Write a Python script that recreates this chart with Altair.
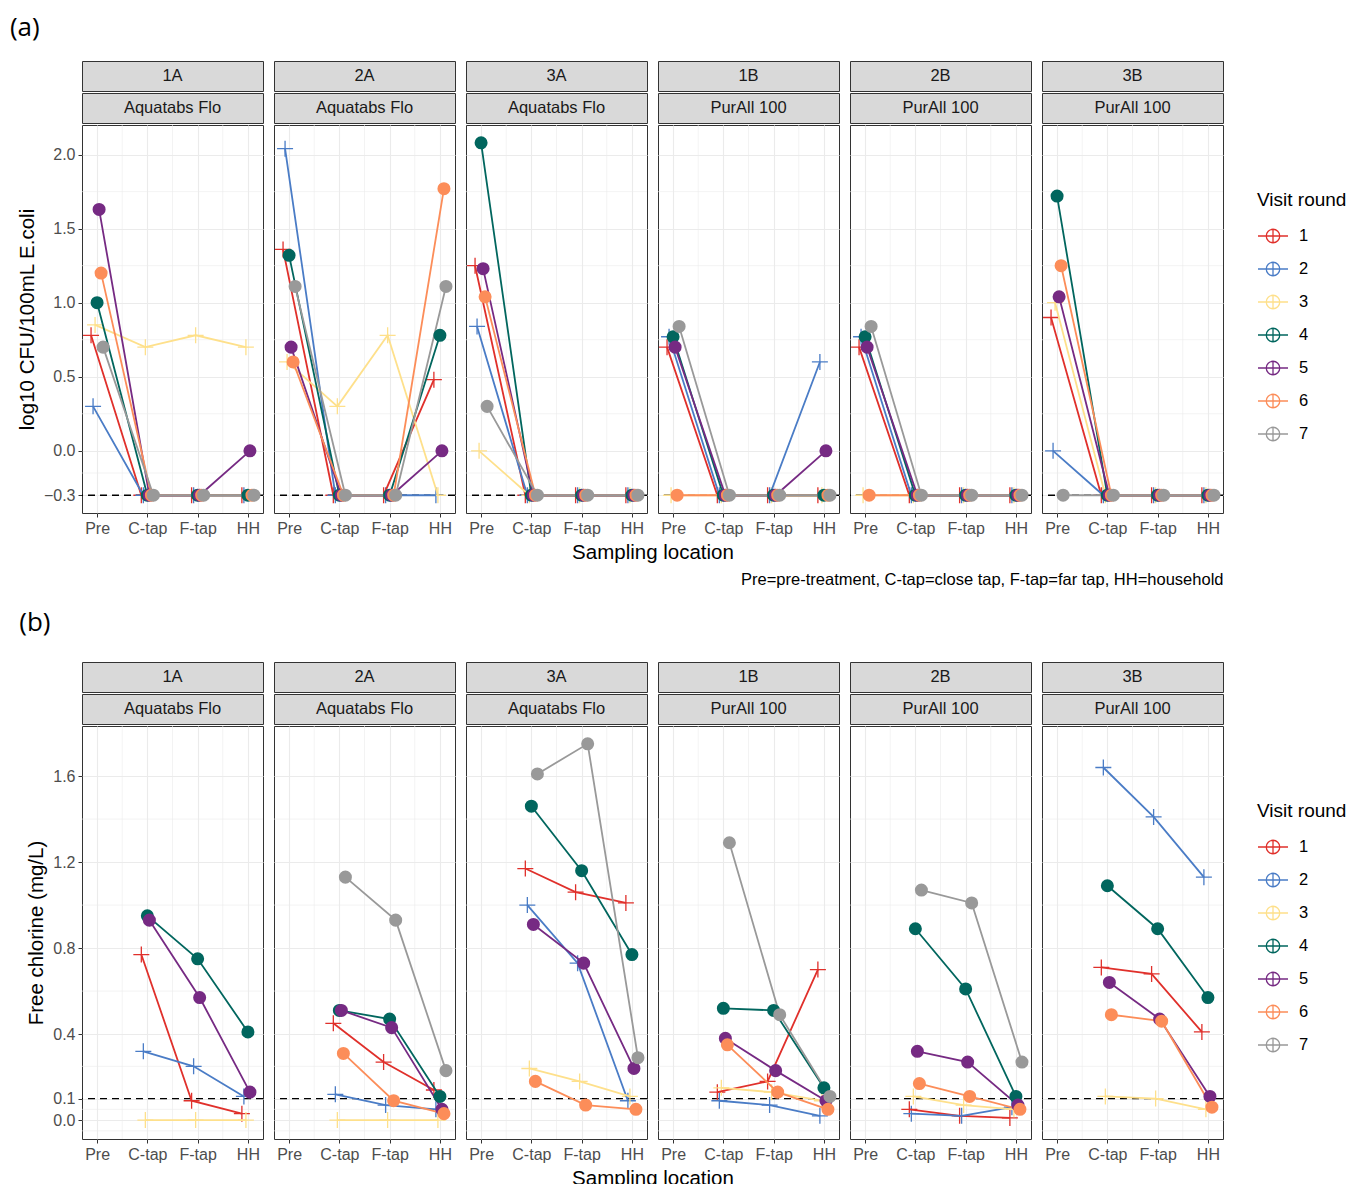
import altair as alt
import pandas as pd

FONT = "Liberation Sans"

SITES = ["1A", "2A", "3A", "1B", "2B", "3B"]
PRODUCTS = ["Aquatabs Flo", "Aquatabs Flo", "Aquatabs Flo",
            "PurAll 100", "PurAll 100", "PurAll 100"]
LOCATIONS = ["Pre", "C-tap", "F-tap", "HH"]
ROUNDS = ["1", "2", "3", "4", "5", "6", "7"]
CROSS_ROUNDS = ["1", "2", "3"]
ROUND_COLORS = ["#E0302B", "#4A7CC6", "#FEE08B", "#01665E",
                "#762A83", "#FC8D59", "#999999"]

# (a) log10 CFU/100mL E.coli -- one list per visit round: [Pre, C-tap, F-tap, HH]
ECOLI_1A = [[0.78, -0.3, -0.3, -0.3], [0.30, -0.3, -0.3, -0.3], [0.85, 0.70, 0.78, 0.70],
            [1.00, -0.3, -0.3, -0.3], [1.63, -0.3, -0.3, 0.00], [1.20, -0.3, -0.3, -0.3],
            [0.70, -0.3, -0.3, -0.3]]
ECOLI_2A = [[1.36, -0.3, -0.3, 0.48], [2.04, -0.3, -0.3, -0.3], [0.60, 0.30, 0.78, -0.3],
            [1.32, -0.3, -0.3, 0.78], [0.70, -0.3, -0.3, 0.00], [0.60, -0.3, -0.3, 1.77],
            [1.11, -0.3, -0.3, 1.11]]
ECOLI_3A = [[1.25, -0.3, -0.3, -0.3], [0.84, -0.3, -0.3, -0.3], [0.00, -0.3, -0.3, -0.3],
            [2.08, -0.3, -0.3, -0.3], [1.23, -0.3, -0.3, -0.3], [1.04, -0.3, -0.3, -0.3],
            [0.30, -0.3, -0.3, -0.3]]
ECOLI_1B = [[0.70, -0.3, -0.3, -0.3], [0.77, -0.3, -0.3, 0.60], [-0.3, -0.3, -0.3, -0.3],
            [0.77, -0.3, -0.3, -0.3], [0.70, -0.3, -0.3, 0.00], [-0.3, -0.3, -0.3, -0.3],
            [0.84, -0.3, -0.3, -0.3]]
ECOLI_2B = [[0.70, -0.3, -0.3, -0.3], [0.77, -0.3, -0.3, -0.3], [-0.3, -0.3, -0.3, -0.3],
            [0.77, -0.3, -0.3, -0.3], [0.70, -0.3, -0.3, -0.3], [-0.3, -0.3, -0.3, -0.3],
            [0.84, -0.3, -0.3, -0.3]]
ECOLI_3B = [[0.90, -0.3, -0.3, -0.3], [0.00, -0.3, -0.3, -0.3], [1.00, -0.3, -0.3, -0.3],
            [1.72, -0.3, -0.3, -0.3], [1.04, -0.3, -0.3, -0.3], [1.25, -0.3, -0.3, -0.3],
            [-0.3, -0.3, -0.3, -0.3]]

# (b) Free chlorine (mg/L) -- one list per visit round: [Pre, C-tap, F-tap, HH]
N = None
CHLOR_1A = [[N, 0.77, 0.09, 0.03], [N, 0.32, 0.25, 0.11], [N, 0.00, 0.00, 0.00],
            [N, 0.95, 0.75, 0.41], [N, 0.93, 0.57, 0.13], [N, N, N, N], [N, N, N, N]]
CHLOR_2A = [[N, 0.45, 0.27, 0.14], [N, 0.12, 0.07, 0.05], [N, 0.00, 0.00, 0.00],
            [N, 0.51, 0.47, 0.11], [N, 0.51, 0.43, 0.05], [N, 0.31, 0.09, 0.03],
            [N, 1.13, 0.93, 0.23]]
CHLOR_3A = [[N, 1.17, 1.06, 1.01], [N, 1.00, 0.73, 0.09], [N, 0.24, 0.18, 0.11],
            [N, 1.46, 1.16, 0.77], [N, 0.91, 0.73, 0.24], [N, 0.18, 0.07, 0.05],
            [N, 1.61, 1.75, 0.29]]
CHLOR_1B = [[N, 0.13, 0.18, 0.70], [N, 0.09, 0.07, 0.02], [N, 0.15, 0.13, 0.09],
            [N, 0.52, 0.51, 0.15], [N, 0.38, 0.23, 0.09], [N, 0.35, 0.13, 0.05],
            [N, 1.29, 0.49, 0.11]]
CHLOR_2B = [[N, 0.05, 0.02, 0.01], [N, 0.03, 0.02, 0.06], [N, 0.11, 0.07, 0.05],
            [N, 0.89, 0.61, 0.11], [N, 0.32, 0.27, 0.07], [N, 0.17, 0.11, 0.05],
            [N, 1.07, 1.01, 0.27]]
CHLOR_3B = [[N, 0.71, 0.68, 0.41], [N, 1.64, 1.41, 1.13], [N, 0.11, 0.10, 0.05],
            [N, 1.09, 0.89, 0.57], [N, 0.64, 0.47, 0.11], [N, 0.49, 0.46, 0.06],
            [N, N, N, N]]

Y_TICKS_A = [-0.3, 0.0, 0.5, 1.0, 1.5, 2.0]
Y_MINOR_A = [-0.15, 0.25, 0.75, 1.25, 1.75]
Y_TICKS_B = [0.0, 0.1, 0.4, 0.8, 1.2, 1.6]
Y_MINOR_B = [-0.05, 0.05, 0.25, 0.6, 1.0, 1.4]
X_TICKS = [0, 1, 2, 3]
X_MINOR = [0.5, 1.5, 2.5]

DODGE_STEP = 0.04
PANEL_W = 181
SPACING = 11
GRID = "#EBEBEB"
CROSS_PATH = "M-1,0L1,0M0,-1L0,1"
LEGEND_PATH = ("M-1,0L1,0M0,-0.45L0,0.45"
               "M0.45,0A0.45,0.45,0,1,1,-0.45,0A0.45,0.45,0,1,1,0.45,0")
LABEL_EXPR = "[" + ",".join("'%s'" % l for l in LOCATIONS) + "][datum.value]"


def make_df(tables):
    rows = []
    for site, table in zip(SITES, tables):
        for r, vals in zip(ROUNDS, table):
            for li, v in enumerate(vals):
                if v is None:
                    continue
                rows.append({"site": site, "round": r, "loc": li,
                             "xpos": li + (int(r) - 4) * DODGE_STEP, "value": v})
    return pd.DataFrame(rows)


def strip(text, w):
    return alt.Chart(pd.DataFrame({"t": [text]})).mark_text(
        font=FONT, fontSize=16.5, color="#1A1A1A"
    ).encode(text="t:N").properties(
        width=w, height=30,
        view=alt.ViewBackground(fill="#D9D9D9", stroke="#333333", strokeWidth=1))


def panel(df, i, cfg):
    H = cfg["height"]
    xkw = dict(values=X_TICKS, labelExpr=LABEL_EXPR, grid=True, gridColor=GRID,
               gridWidth=1.1, domain=False, ticks=True, tickColor="#333333",
               tickSize=4, labelColor="#4D4D4D", labelFontSize=16, labelFont=FONT,
               labelPadding=3, titleFont=FONT, titleFontWeight="normal",
               titleColor="#000000", titleBaseline="alphabetic")
    if i == 2:
        xaxis = alt.Axis(title="Sampling location", titleX=PANEL_W + SPACING / 2,
                         titleY=45, titleAlign="center", titleFontSize=20.5, **xkw)
    elif i == 5 and cfg.get("note"):
        xaxis = alt.Axis(title=cfg["note"], titleX=PANEL_W, titleY=71,
                         titleAlign="right", titleFontSize=16.5, **xkw)
    else:
        xaxis = alt.Axis(title=None, **xkw)
    if i == 0:
        yaxis = alt.Axis(values=cfg["yticks"], format=".1f", grid=True, gridColor=GRID,
                         gridWidth=1.1, domain=False, tickColor="#333333", tickSize=4,
                         labelColor="#4D4D4D", labelFontSize=16, labelFont=FONT,
                         labelPadding=3, title=cfg["ytitle"], titleFont=FONT,
                         titleFontSize=20.5, titleFontWeight="normal",
                         titleColor="#000000", titlePadding=6)
    else:
        yaxis = alt.Axis(values=cfg["yticks"], labels=False, ticks=False, domain=False,
                         title=None, grid=True, gridColor=GRID, gridWidth=1.1)
    x = alt.X("xpos:Q", scale=alt.Scale(domain=[-0.3, 3.3], nice=False, zero=False),
              axis=xaxis)
    y = alt.Y("value:Q", scale=alt.Scale(domain=cfg["ydomain"], nice=False, zero=False),
              axis=yaxis)
    cscale = alt.Scale(domain=ROUNDS, range=ROUND_COLORS)
    if i == 0:
        leg = alt.Legend(title="Visit round", orient="none", legendX=cfg["legx"],
                         legendY=cfg["legy"], symbolType=LEGEND_PATH, symbolSize=900,
                         symbolStrokeWidth=1.3, symbolFillColor="transparent",
                         titleFont=FONT, titleFontSize=19,
                         titleFontWeight="normal", titleColor="#000000", labelFont=FONT,
                         labelFontSize=16.5, labelColor="#000000", rowPadding=7,
                         labelOffset=10, titlePadding=10, padding=0)
        color_cross = alt.Color("round:N", scale=cscale, legend=leg)
    else:
        color_cross = alt.Color("round:N", scale=cscale, legend=None)
    color_other = alt.Color("round:N", scale=cscale, legend=None)
    fill_circle = alt.Fill("round:N", scale=cscale, legend=None)

    sub = df[df["site"] == SITES[i]]
    minor_h = alt.Chart(pd.DataFrame({"value": cfg["yminor"]})).mark_rule(
        color=GRID, strokeWidth=0.6).encode(y=y)
    minor_v = alt.Chart(pd.DataFrame({"xpos": X_MINOR})).mark_rule(
        color=GRID, strokeWidth=0.6).encode(x=x)
    ref = alt.Chart(pd.DataFrame({"value": [cfg["ref"]]})).mark_rule(
        color="#000000", strokeDash=[7, 5], strokeWidth=1.4).encode(y=y)
    crosses = alt.Chart(sub).transform_filter(
        alt.FieldOneOfPredicate(field="round", oneOf=CROSS_ROUNDS)
    ).mark_point(shape=CROSS_PATH, filled=False, size=256, strokeWidth=1.3,
                 opacity=1).encode(x=x, y=y, color=color_cross)
    lines = alt.Chart(sub).mark_line(strokeWidth=1.8).encode(
        x=x, y=y, color=color_other, detail="round:N", order="loc:Q")
    circles = alt.Chart(sub).transform_filter(
        ~alt.FieldOneOfPredicate(field="round", oneOf=CROSS_ROUNDS)
    ).mark_circle(size=170, opacity=1).encode(x=x, y=y, fill=fill_circle)
    return alt.layer(minor_h, minor_v, ref, crosses, lines, circles).properties(
        width=PANEL_W, height=H)


def row(tables, cfg, label):
    df = make_df(tables)
    top = alt.hconcat(*[strip(s, PANEL_W) for s in SITES],
                      spacing=SPACING, bounds="flush")
    mid = alt.hconcat(*[strip(p, PANEL_W) for p in PRODUCTS],
                      spacing=SPACING, bounds="flush")
    plots = alt.hconcat(*[panel(df, i, cfg) for i in range(len(SITES))],
                        spacing=SPACING, bounds="flush")
    return alt.vconcat(top, mid, plots, spacing=0).properties(
        title=alt.TitleParams(label, anchor="start", fontSize=26, font="Open Sans",
                              fontWeight="normal", color="#000000",
                              offset=cfg["toff"], dx=-7))


cfg_a = dict(height=388, ydomain=[-0.42, 2.2], yticks=Y_TICKS_A, yminor=Y_MINOR_A,
             ref=-0.3, ytitle="log10 CFU/100mL E.coli", legx=1175, legy=130, toff=20,
             note="Pre=pre-treatment, C-tap=close tap, F-tap=far tap, HH=household")
cfg_b = dict(height=413, ydomain=[-0.088, 1.833], yticks=Y_TICKS_B, yminor=Y_MINOR_B,
             ref=0.1, ytitle="Free chlorine (mg/L)", legx=1175, legy=140, toff=26)

row_a = row([ECOLI_1A, ECOLI_2A, ECOLI_3A, ECOLI_1B, ECOLI_2B, ECOLI_3B], cfg_a, "(a)")
row_b = row([CHLOR_1A, CHLOR_2A, CHLOR_3A, CHLOR_1B, CHLOR_2B, CHLOR_3B], cfg_b, "(b)")

chart = alt.vconcat(row_a, row_b, spacing=21).resolve_scale(
    color="independent"
).properties(
    padding={"left": 1, "top": 6, "right": 0, "bottom": 0}
).configure_view(stroke="#333333", strokeWidth=1)

chart.save("out.html", embed_options={"renderer": "svg", "actions": False})
